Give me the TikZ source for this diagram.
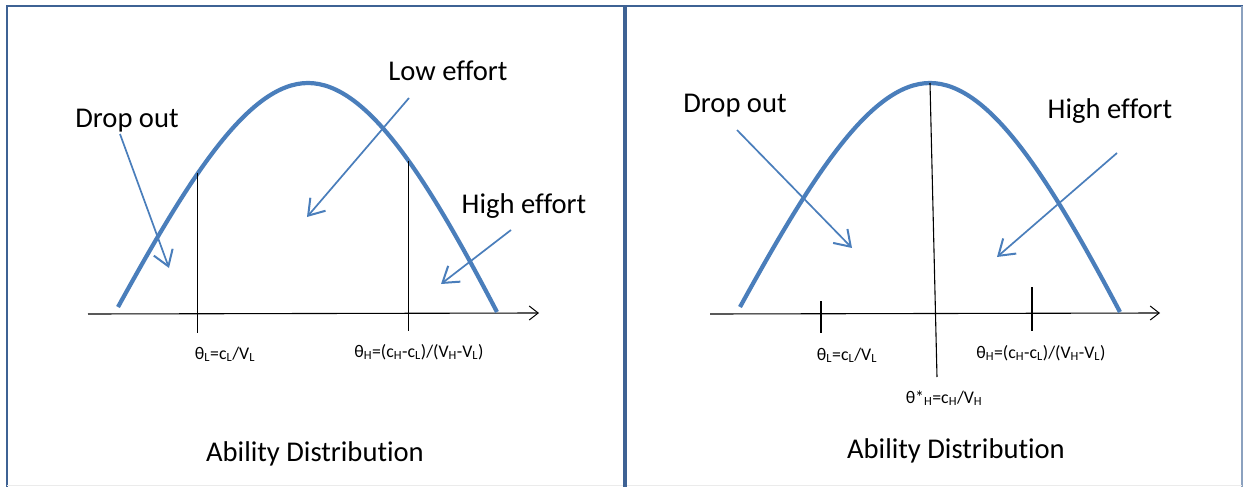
\documentclass[tikz,border=0pt]{standalone}
\usepackage{fontspec}
\setmainfont{Carlito}[Ligatures=NoCommon]
\usetikzlibrary{arrows.meta}
\definecolor{framecol}{HTML}{3E6294}
\definecolor{curvecol}{HTML}{4A7EBB}
\begin{document}
\begin{tikzpicture}[x=1pt,y=-1pt,
  bell/.style={draw=curvecol, line width=4.2pt, line cap=butt},
  pointer/.style={draw=curvecol, line width=1.7pt, -{Straight Barb[length=15pt,width=20pt,line width=2pt]}},
  axisline/.style={draw=black, line width=1.1pt, -{Straight Barb[length=9pt,width=14pt,line width=1pt]}},
  vline/.style={draw=black, line width=1.1pt},
  big/.style={font=\fontsize{28.6}{34}\selectfont, anchor=base, inner sep=0pt},
  small/.style={font=\fontsize{17.8}{21}\selectfont, anchor=base, inner sep=0pt}]
\useasboundingbox (0,0) rectangle (1243,487);
\fill[white] (0,0) rectangle (1243,487);
% frame
\draw[framecol, line width=2.5pt] (7,487) -- (7,6) -- (1243,6);
\draw[framecol!60, line width=1.5pt] (1242,6) -- (1242,487);
\draw[black!8, line width=1pt] (7,485.5) -- (1242,485.5);
\draw[framecol, line width=4pt] (625,6) -- (625,487);

% ---------- left panel ----------
\coordinate (lAxS) at (88,314);
\coordinate (lAxE) at (539,313);
\draw[axisline] (lAxS) -- (lAxE);
\draw[bell] (118,307) .. controls (188,180) and (248,83) .. (308,83)
   coordinate[pos=0.4] (lA)
   .. controls (368,83) and (428,180) .. (497,312)
   coordinate[pos=0.55] (lB);
\coordinate (lAbot) at (198,333);
\coordinate (lBbot) at (409,331);
\draw[vline] (lA) -- (lA |- lAbot);
\draw[vline] (lB) -- (lB |- lBbot);

\node[small] (lthL) at (225,359) {θ\textsubscript{L}=c\textsubscript{L}/V\textsubscript{L}};
\node[small] (lthH) at (419,357) {θ\textsubscript{H}=(c\textsubscript{H}-c\textsubscript{L})/(V\textsubscript{H}-V\textsubscript{L})};

\node[big] (ldrop) at (127,128) {Drop out};
\node[big] (llow) at (448,81) {Low effort};
\node[big] (lhigh) at (524,213) {High effort};
\node[big] (lab) at (315,461) {Ability Distribution};

\coordinate (ldropS) at (120,134);
\coordinate (ldropE) at (169,268);
\coordinate (llowS) at (409,98);
\coordinate (llowE) at (307,217);
\coordinate (lhighS) at (511,230);
\coordinate (lhighE) at (441,284);
\draw[pointer] (ldropS) -- (ldropE);
\draw[pointer] (llowS) -- (llowE);
\draw[pointer] (lhighS) -- (lhighE);

% ---------- right panel ----------
\coordinate (rAxS) at (710,314);
\coordinate (rAxE) at (1160,313);
\draw[axisline] (rAxS) -- (rAxE);
\draw[bell] (740,307) .. controls (810,180) and (870,83) .. (930,83)
   coordinate (rPeak)
   .. controls (990,83) and (1050,180) .. (1120,312);
\coordinate (rPeakBot) at (937,377);
\draw[vline] (rPeak) -- (rPeakBot);
\coordinate (rT1a) at (821,301);
\coordinate (rT1b) at (821,333);
\coordinate (rT2a) at (1032,287);
\coordinate (rT2b) at (1032,331);
\draw[vline] (rT1a) -- (rT1b);
\draw[vline] (rT2a) -- (rT2b);

\node[small] (rthL) at (847,360) {θ\textsubscript{L}=c\textsubscript{L}/V\textsubscript{L}};
\node[small] (rthH) at (1041,358) {θ\textsubscript{H}=(c\textsubscript{H}-c\textsubscript{L})/(V\textsubscript{H}-V\textsubscript{L})};
\node[small] (rthS) at (944,403) {θ*\textsubscript{H}=c\textsubscript{H}/V\textsubscript{H}};

\node[big] (rdrop) at (735,113) {Drop out};
\node[big] (rhigh) at (1110,118) {High effort};
\node[big] (rab) at (956,458) {Ability Distribution};

\coordinate (rdropS) at (737,130);
\coordinate (rdropE) at (852,248);
\coordinate (rhighS) at (1117,153);
\coordinate (rhighE) at (997,257);
\draw[pointer] (rdropS) -- (rdropE);
\draw[pointer] (rhighS) -- (rhighE);
\end{tikzpicture}
\end{document}
